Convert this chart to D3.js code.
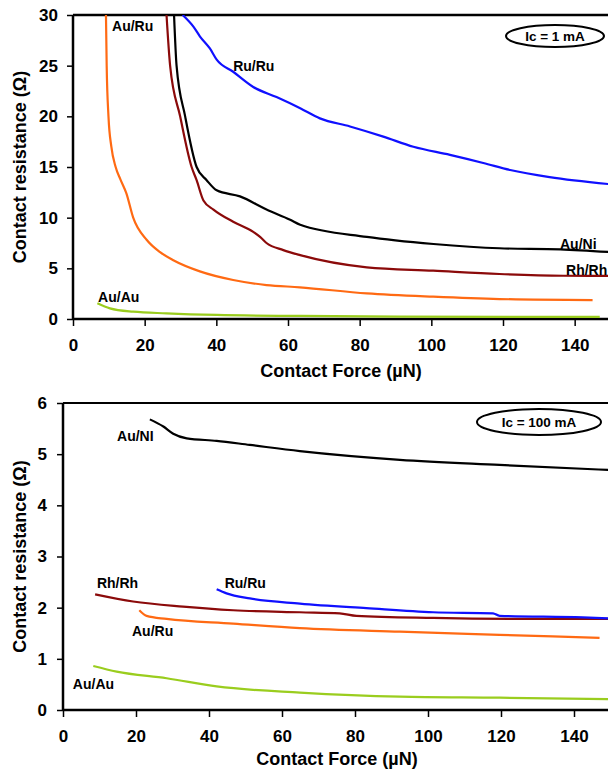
<!DOCTYPE html>
<html>
<head>
<meta charset="utf-8">
<script src="https://cdn.jsdelivr.net/npm/d3@7"></script>
<style>
  body { margin: 0; background: #fff; }
  svg { display: block; font-family: "Liberation Sans", Arial, sans-serif; }
  .tick text { font-size: 17px; font-weight: bold; fill: #000; }
</style>
</head>
<body>
<div id="chart"></div>
<script>
// ---- data (contact force in µN, contact resistance in Ω) ----
const xTicks = [0, 20, 40, 60, 80, 100, 120, 140];
const yTicksTop = [0, 5, 10, 15, 20, 25, 30];
const yTicksBottom = [0, 1, 2, 3, 4, 5, 6];

// Ic = 1 mA
const auRu1F = [9.2, 9.4, 9.9, 10.7, 11.9, 13.2, 14.9, 16.8, 20.6, 24.3, 28, 35.4, 44.7, 54, 63.3, 82, 100.5, 119, 145];
const auRu1R = [30, 25, 20, 17, 15, 13.8, 12.4, 10, 7.8, 6.6, 5.8, 4.7, 3.85, 3.35, 3.13, 2.53, 2.2, 1.97, 1.87];
const rhRh1F = [26.1, 27.1, 29.9, 33.1, 34.5, 36.4, 39.2, 44.7, 50.3, 52.2, 54, 58.7, 63.4, 82, 100.5, 119, 136.8, 150];
const rhRh1R = [30, 25, 20, 15, 13.7, 11.7, 10.8, 9.6, 8.6, 8.1, 7.5, 6.8, 6.3, 5.1, 4.77, 4.44, 4.27, 4.25];
const auNi1F = [28.2, 28.9, 31.3, 34.5, 37.3, 40.1, 46.6, 54, 60.6, 63.4, 82, 100.6, 119, 136, 150];
const auNi1R = [30, 25, 20, 15, 13.7, 12.7, 12.1, 10.8, 9.8, 9.3, 8.1, 7.4, 6.98, 6.88, 6.6];
const ruRu1F = [30.6, 33.6, 35.4, 38.2, 40.1, 44.7, 50.3, 56.8, 63.4, 68.9, 77.3, 86.6, 95, 105.2, 114.5, 122, 133, 150];
const ruRu1R = [30, 28.85, 27.9, 26.7, 25.6, 24.4, 22.9, 21.9, 20.8, 19.8, 19.0, 18.0, 17.0, 16.2, 15.4, 14.7, 14.0, 13.3];
const auAu1F = [6.8, 10.3, 16.8, 26.1, 40.1, 63.4, 91, 147];
const auAu1R = [1.55, 1.05, 0.72, 0.56, 0.4, 0.3, 0.23, 0.2];

// Ic = 100 mA
const auNi2F = [23.8, 27.5, 30.2, 33.9, 42.1, 51.2, 64.9, 92.3, 119.6, 150];
const auNi2R = [5.68, 5.54, 5.4, 5.31, 5.26, 5.18, 5.06, 4.89, 4.79, 4.69];
const rhRh2F = [8.8, 19.2, 32.9, 46.6, 64.9, 75.8, 80.4, 101.4, 128.7, 150];
const rhRh2R = [2.26, 2.12, 2.02, 1.95, 1.91, 1.89, 1.84, 1.80, 1.78, 1.78];
const ruRu2F = [42.1, 44.8, 51.2, 64.9, 83.1, 101.4, 117.8, 119.6, 142.4, 150];
const ruRu2R = [2.36, 2.28, 2.18, 2.08, 1.99, 1.91, 1.89, 1.84, 1.81, 1.79];
const auRu2F = [20.9, 22.9, 28.4, 46.6, 64.9, 92.3, 119.6, 147];
const auRu2R = [1.95, 1.84, 1.78, 1.69, 1.60, 1.53, 1.47, 1.41];
const auAu2F = [8.3, 14.7, 28.4, 42.1, 64.9, 92.3, 119.6, 150];
const auAu2R = [0.86, 0.75, 0.62, 0.46, 0.34, 0.26, 0.24, 0.21];

// series labels, anchored in data units
const labelText1 = ["Au/Ru", "Ru/Ru", "Au/Au", "Au/Ni", "Rh/Rh"];
const labelF1 = [10.9, 44.7, 7, 135.9, 137.6];
const labelR1 = [28.4, 24.5, 1.7, 6.9, 4.35];
const labelText2 = ["Au/NI", "Rh/Rh", "Ru/Ru", "Au/Ru", "Au/Au"];
const labelF2 = [14.8, 9.3, 44.3, 18.9, 2.7];
const labelR2 = [5.26, 2.38, 2.38, 1.45, 0.41];

const colors = {
  auRu: "#ff6a13",
  rhRh: "#8b0a0a",
  auNi: "#000000",
  ruRu: "#1010ff",
  auAu: "#9acd1e"
};

const zip = (fs, rs) => fs.map((f, i) => ({f: f, r: rs[i]}));

const width = 608, height = 770;
const svg = d3.select("#chart").append("svg")
  .attr("width", width)
  .attr("height", height);

function drawPanel(opt) {
  const x = d3.scaleLinear().domain([0, 150]).range([opt.left, 610.5]);
  const y = d3.scaleLinear().domain([0, opt.yMax]).range([opt.bottom, opt.top]);
  const g = svg.append("g");

  const clipId = "clip" + opt.id;
  svg.append("clipPath").attr("id", clipId)
    .append("rect")
    .attr("x", opt.left).attr("y", opt.top)
    .attr("width", width - opt.left).attr("height", opt.bottom - opt.top);

  // axes
  g.append("g")
    .attr("transform", `translate(0,${opt.bottom})`)
    .call(d3.axisBottom(x).tickValues(xTicks).tickSize(7).tickPadding(13).tickFormat(d3.format("d")))
    .call(a => a.select(".domain").remove())
    .call(a => a.selectAll("line").attr("stroke-width", 1.5));

  g.append("g")
    .attr("transform", `translate(${opt.left},0)`)
    .call(d3.axisLeft(y).tickValues(opt.yTicks).tickSize(6).tickPadding(opt.yPad).tickFormat(d3.format("d")))
    .call(a => a.select(".domain").remove())
    .call(a => a.selectAll("line").attr("stroke-width", 1.5));

  // frame lines
  g.append("line")
    .attr("x1", opt.left).attr("x2", width)
    .attr("y1", opt.bottom).attr("y2", opt.bottom)
    .attr("stroke", "#000").attr("stroke-width", 2.5);
  g.append("line")
    .attr("x1", opt.left).attr("x2", width)
    .attr("y1", opt.top).attr("y2", opt.top)
    .attr("stroke", "#000").attr("stroke-width", opt.topStroke);
  g.append("line")
    .attr("x1", opt.left).attr("x2", opt.left)
    .attr("y1", opt.top).attr("y2", opt.bottom)
    .attr("stroke", "#000").attr("stroke-width", 2.5);

  // series
  const line = d3.line().x(d => x(d.f)).y(d => y(d.r)).curve(d3.curveMonotoneX);
  const lines = g.append("g").attr("clip-path", `url(#${clipId})`);
  opt.series.forEach(s => {
    lines.append("path")
      .datum(s.data)
      .attr("fill", "none")
      .attr("stroke", s.color)
      .attr("stroke-width", 2.2)
      .attr("d", line);
  });

  // series labels
  opt.labels.forEach(l => {
    g.append("text")
      .attr("x", x(l.f)).attr("y", y(l.r))
      .attr("font-size", 14).attr("font-weight", "bold")
      .text(l.text);
  });

  // axis titles
  g.append("text")
    .attr("x", opt.xTitleX).attr("y", opt.xTitleY)
    .attr("text-anchor", "middle")
    .attr("font-size", 18).attr("font-weight", "bold")
    .text("Contact Force (µN)");
  g.append("text")
    .attr("transform", `translate(${opt.yTitleX},${(opt.top + opt.bottom) / 2}) rotate(-90)`)
    .attr("text-anchor", "middle")
    .attr("font-size", 18).attr("font-weight", "bold")
    .text("Contact resistance (Ω)");

  // current annotation
  g.append("ellipse")
    .attr("cx", opt.note.cx).attr("cy", opt.note.cy)
    .attr("rx", opt.note.rx).attr("ry", opt.note.ry)
    .attr("fill", "#fff").attr("stroke", "#000").attr("stroke-width", 2);
  g.append("text")
    .attr("x", opt.note.cx).attr("y", opt.note.cy + 5)
    .attr("text-anchor", "middle")
    .attr("font-size", 13.5).attr("font-weight", "bold")
    .text(opt.note.text);
}

drawPanel({
  id: 1, left: 73, top: 15, bottom: 319, yMax: 30, yTicks: yTicksTop, yPad: 9, topStroke: 2.7,
  xTitleX: 341, xTitleY: 377, yTitleX: 26,
  note: {cx: 555, cy: 36, rx: 49, ry: 11, text: "Ic = 1 mA"},
  series: [
    {color: colors.auAu, data: zip(auAu1F, auAu1R)},
    {color: colors.auRu, data: zip(auRu1F, auRu1R)},
    {color: colors.rhRh, data: zip(rhRh1F, rhRh1R)},
    {color: colors.auNi, data: zip(auNi1F, auNi1R)},
    {color: colors.ruRu, data: zip(ruRu1F, ruRu1R)}
  ],
  labels: labelText1.map((t, i) => ({text: t, f: labelF1[i], r: labelR1[i]}))
});

drawPanel({
  id: 2, left: 63, top: 403, bottom: 710, yMax: 6, yTicks: yTicksBottom, yPad: 10, topStroke: 2,
  xTitleX: 337, xTitleY: 765, yTitleX: 26,
  note: {cx: 539, cy: 422, rx: 62, ry: 13, text: "Ic = 100 mA"},
  series: [
    {color: colors.auAu, data: zip(auAu2F, auAu2R)},
    {color: colors.auRu, data: zip(auRu2F, auRu2R)},
    {color: colors.rhRh, data: zip(rhRh2F, rhRh2R)},
    {color: colors.ruRu, data: zip(ruRu2F, ruRu2R)},
    {color: colors.auNi, data: zip(auNi2F, auNi2R)}
  ],
  labels: labelText2.map((t, i) => ({text: t, f: labelF2[i], r: labelR2[i]}))
});
</script>
</body>
</html>
